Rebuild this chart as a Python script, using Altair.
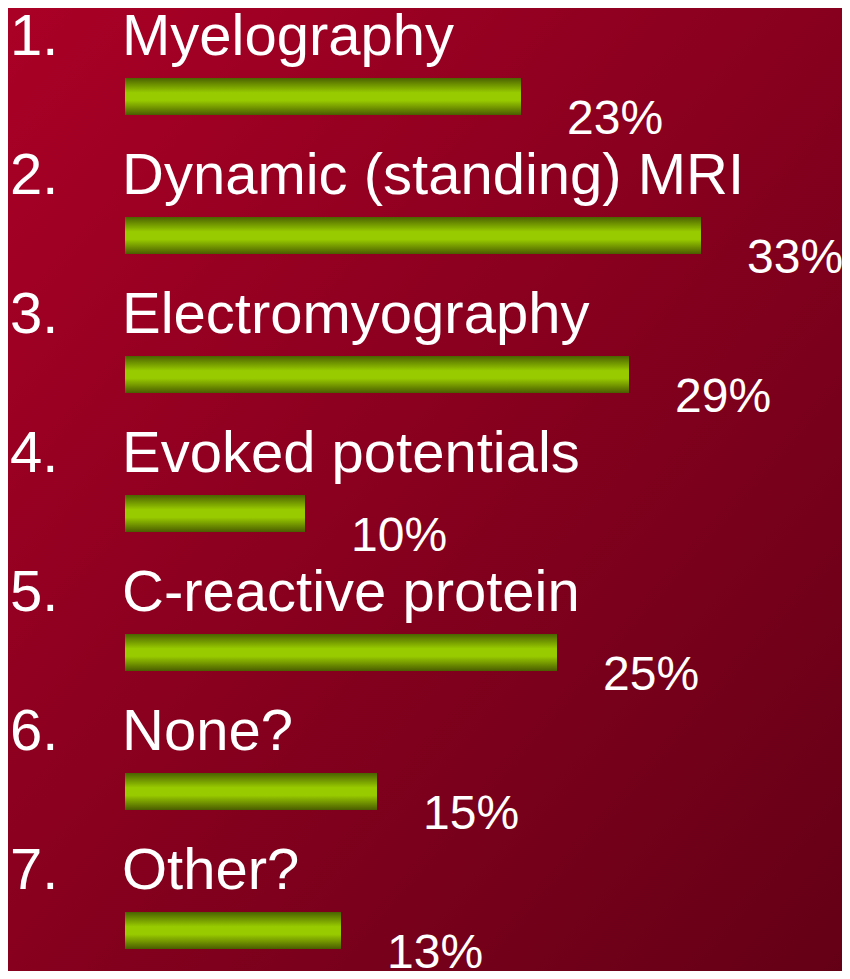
import altair as alt
import pandas as pd

numbers = ["1.", "2.", "3.", "4.", "5.", "6.", "7."]
labels = ["Myelography", "Dynamic (standing) MRI", "Electromyography",
          "Evoked potentials", "C-reactive protein", "None?", "Other?"]
counts = [11, 16, 14, 5, 12, 7, 6]
pct_labels = ["23%", "33%", "29%", "10%", "25%", "15%", "13%"]

df = pd.DataFrame({
    "idx": list(range(len(labels))),
    "num": numbers,
    "label": labels,
    "count": counts,
    "pct": pct_labels,
})

FONT = "Liberation Sans"
W, H = 834, 963

# x: 36 px per response, bars start at 117 px
xs = alt.Scale(domain=[-117 / 36, (W - 117) / 36], nice=False, zero=False, padding=0)
# y: rows ~139 px apart, first row centre at 88.5 px
STEP, FIRST = 139.0, 88.5
ys = alt.Scale(domain=[-FIRST / STEP, -FIRST / STEP + H / STEP],
               nice=False, zero=False, reverse=True, padding=0)

bar_grad = alt.Gradient(
    gradient="linear",
    stops=[
        alt.GradientStop(color="#4a6200", offset=0),
        alt.GradientStop(color="#99cc00", offset=0.4),
        alt.GradientStop(color="#99cc00", offset=0.6),
        alt.GradientStop(color="#4a5c00", offset=1),
    ],
    x1=0, y1=0, x2=0, y2=1,
)

bg_grad = alt.Gradient(
    gradient="linear",
    stops=[
        alt.GradientStop(color="#aa0026", offset=0),
        alt.GradientStop(color="#640016", offset=1),
    ],
    x1=0, y1=0, x2=1, y2=1,
)

background = alt.Chart(pd.DataFrame({"bg": [0]})).mark_rect(color=bg_grad).encode(
    x=alt.value(0), x2=alt.value(W),
    y=alt.value(0), y2=alt.value(H),
)

base = alt.Chart(df).transform_calculate(start="0")

bars = base.mark_bar(orient="horizontal", size=37, color=bar_grad).encode(
    x=alt.X("count:Q", scale=xs, axis=None),
    x2="start:Q",
    y=alt.Y("idx:Q", scale=ys, axis=None),
)

nums = base.mark_text(align="left", baseline="alphabetic", dx=-115, dy=-42,
                      font=FONT, fontSize=58, color="white").encode(
    x=alt.X("start:Q", scale=xs, axis=None),
    y=alt.Y("idx:Q", scale=ys, axis=None),
    text="num:N",
)

names = base.mark_text(align="left", baseline="alphabetic", dx=-3, dy=-42,
                       font=FONT, fontSize=58, color="white").encode(
    x=alt.X("start:Q", scale=xs, axis=None),
    y=alt.Y("idx:Q", scale=ys, axis=None),
    text="label:N",
)

pcts = base.mark_text(align="left", baseline="alphabetic", dx=46, dy=37,
                      font=FONT, fontSize=48, color="white").encode(
    x=alt.X("count:Q", scale=xs, axis=None),
    y=alt.Y("idx:Q", scale=ys, axis=None),
    text="pct:N",
)

chart = alt.layer(background, bars, nums, names, pcts).properties(
    width=W, height=H,
    padding=0,
    background="#8a001e",
    autosize=alt.AutoSizeParams(type="none"),
).configure_view(
    strokeWidth=0,
)

chart.save("out.html", embed_options={"renderer": "svg", "actions": False})
